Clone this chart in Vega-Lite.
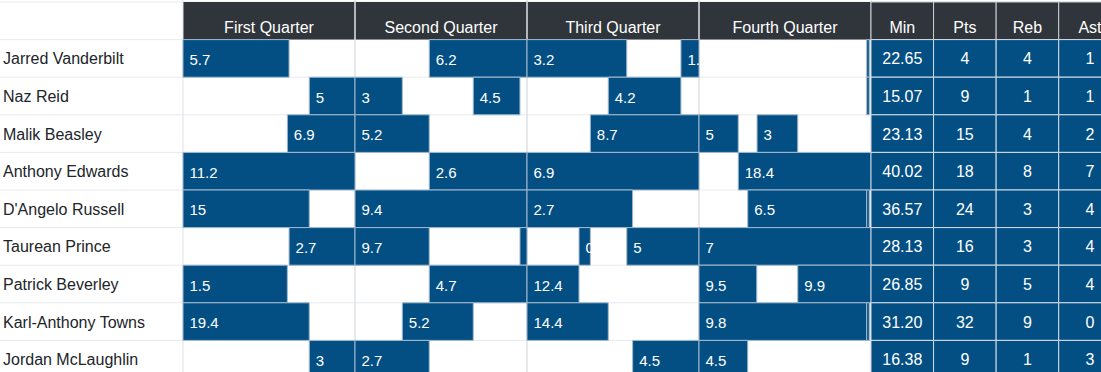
{
  "$schema": "https://vega.github.io/schema/vega-lite/v6.json",
  "width": 1101,
  "height": 372,
  "padding": 0,
  "autosize": {"type": "none"},
  "background": "#ffffff",
  "config": {"view": {"stroke": null}, "font": "Liberation Sans", "text": {"font": "Liberation Sans"}},
  "datasets": {
    "rows": [
      {"row": " "}, {"row": "Jarred Vanderbilt"}, {"row": "Naz Reid"}, {"row": "Malik Beasley"},
      {"row": "Anthony Edwards"}, {"row": "D'Angelo Russell"}, {"row": "Taurean Prince"},
      {"row": "Patrick Beverley"}, {"row": "Karl-Anthony Towns"}, {"row": "Jordan McLaughlin"}
    ],
    "players": [
      {"row": "Jarred Vanderbilt", "Min": "22.65", "Pts": "4", "Reb": "4", "Ast": "1"},
      {"row": "Naz Reid", "Min": "15.07", "Pts": "9", "Reb": "1", "Ast": "1"},
      {"row": "Malik Beasley", "Min": "23.13", "Pts": "15", "Reb": "4", "Ast": "2"},
      {"row": "Anthony Edwards", "Min": "40.02", "Pts": "18", "Reb": "8", "Ast": "7"},
      {"row": "D'Angelo Russell", "Min": "36.57", "Pts": "24", "Reb": "3", "Ast": "4"},
      {"row": "Taurean Prince", "Min": "28.13", "Pts": "16", "Reb": "3", "Ast": "4"},
      {"row": "Patrick Beverley", "Min": "26.85", "Pts": "9", "Reb": "5", "Ast": "4"},
      {"row": "Karl-Anthony Towns", "Min": "31.20", "Pts": "32", "Reb": "9", "Ast": "0"},
      {"row": "Jordan McLaughlin", "Min": "16.38", "Pts": "9", "Reb": "1", "Ast": "3"}
    ],
    "quarters": [
      {"quarter": "First Quarter", "start": 0, "end": 12},
      {"quarter": "Second Quarter", "start": 12, "end": 24},
      {"quarter": "Third Quarter", "start": 24, "end": 36},
      {"quarter": "Fourth Quarter", "start": 36, "end": 48}
    ],
    "stints": [
      {"row": "Jarred Vanderbilt", "start": 0, "end": 7.4, "label": "5.7"},
      {"row": "Jarred Vanderbilt", "start": 17.18, "end": 24, "label": "6.2"},
      {"row": "Jarred Vanderbilt", "start": 24, "end": 30.96, "label": "3.2"},
      {"row": "Jarred Vanderbilt", "start": 34.74, "end": 36, "label": "1.2"},
      {"row": "Jarred Vanderbilt", "start": 47.7, "end": 47.88, "label": null},
      {"row": "Naz Reid", "start": 8.81, "end": 12, "label": "5"},
      {"row": "Naz Reid", "start": 12, "end": 15.3, "label": "3"},
      {"row": "Naz Reid", "start": 20.25, "end": 23.51, "label": "4.5"},
      {"row": "Naz Reid", "start": 29.67, "end": 34.74, "label": "4.2"},
      {"row": "Naz Reid", "start": 47.7, "end": 47.88, "label": null},
      {"row": "Malik Beasley", "start": 7.28, "end": 12, "label": "6.9"},
      {"row": "Malik Beasley", "start": 12, "end": 17.18, "label": "5.2"},
      {"row": "Malik Beasley", "start": 28.42, "end": 36, "label": "8.7"},
      {"row": "Malik Beasley", "start": 36, "end": 38.74, "label": "5"},
      {"row": "Malik Beasley", "start": 40.05, "end": 42.89, "label": "3"},
      {"row": "Anthony Edwards", "start": 0, "end": 12, "label": "11.2"},
      {"row": "Anthony Edwards", "start": 17.18, "end": 24, "label": "2.6"},
      {"row": "Anthony Edwards", "start": 24, "end": 36, "label": "6.9"},
      {"row": "Anthony Edwards", "start": 38.74, "end": 48, "label": "18.4"},
      {"row": "D'Angelo Russell", "start": 0, "end": 8.81, "label": "15"},
      {"row": "D'Angelo Russell", "start": 12, "end": 24, "label": "9.4"},
      {"row": "D'Angelo Russell", "start": 24, "end": 31.37, "label": "2.7"},
      {"row": "D'Angelo Russell", "start": 39.4, "end": 47.7, "label": "6.5"},
      {"row": "D'Angelo Russell", "start": 47.7, "end": 47.88, "label": null},
      {"row": "Taurean Prince", "start": 7.4, "end": 12, "label": "2.7"},
      {"row": "Taurean Prince", "start": 12, "end": 17.18, "label": "9.7"},
      {"row": "Taurean Prince", "start": 23.51, "end": 24, "label": null},
      {"row": "Taurean Prince", "start": 27.63, "end": 28.42, "label": "0.8"},
      {"row": "Taurean Prince", "start": 30.96, "end": 36, "label": "5"},
      {"row": "Taurean Prince", "start": 36, "end": 48, "label": "7"},
      {"row": "Patrick Beverley", "start": 0, "end": 7.28, "label": "1.5"},
      {"row": "Patrick Beverley", "start": 17.18, "end": 24, "label": "4.7"},
      {"row": "Patrick Beverley", "start": 24, "end": 27.63, "label": "12.4"},
      {"row": "Patrick Beverley", "start": 36, "end": 40.03, "label": "9.5"},
      {"row": "Patrick Beverley", "start": 42.89, "end": 48, "label": "9.9"},
      {"row": "Karl-Anthony Towns", "start": 0, "end": 8.81, "label": "19.4"},
      {"row": "Karl-Anthony Towns", "start": 15.3, "end": 20.25, "label": "5.2"},
      {"row": "Karl-Anthony Towns", "start": 24, "end": 29.67, "label": "14.4"},
      {"row": "Karl-Anthony Towns", "start": 36, "end": 47.7, "label": "9.8"},
      {"row": "Karl-Anthony Towns", "start": 47.7, "end": 47.88, "label": null},
      {"row": "Jordan McLaughlin", "start": 8.81, "end": 12, "label": "3"},
      {"row": "Jordan McLaughlin", "start": 12, "end": 17.18, "label": "2.7"},
      {"row": "Jordan McLaughlin", "start": 31.37, "end": 36, "label": "4.5"},
      {"row": "Jordan McLaughlin", "start": 36, "end": 39.4, "label": "4.5"}
    ]
  },
  "layer": [
    {
      "layer": [
        {
          "data": {"name": "rows"},
          "mark": {"type": "rule", "color": "#e6eaee", "strokeWidth": 1},
          "encoding": {
            "y": {"field": "row", "type": "nominal", "bandPosition": 0, "axis": null,
                  "scale": {"type": "band", "domain": [" ", "Jarred Vanderbilt", "Naz Reid", "Malik Beasley", "Anthony Edwards", "D'Angelo Russell", "Taurean Prince", "Patrick Beverley", "Karl-Anthony Towns", "Jordan McLaughlin"], "range": [2, 378], "paddingInner": 0, "paddingOuter": 0}}
          }
        },
        {
          "data": {"name": "players"},
          "mark": {"type": "text", "align": "left", "baseline": "middle", "fontSize": 16, "color": "#212529", "dx": 3, "dy": 1},
          "encoding": {
            "x": {"datum": "Player", "type": "nominal", "bandPosition": 0, "axis": null,
                  "scale": {"type": "band", "domain": ["Player"], "range": [0, 183], "paddingInner": 0, "paddingOuter": 0}},
            "y": {"field": "row", "type": "nominal", "axis": null},
            "text": {"field": "row"}
          }
        }
      ]
    },
    {
      "layer": [
        {
          "data": {"name": "quarters"},
          "mark": {"type": "rect", "color": "#2f353b"},
          "encoding": {
            "x": {"field": "start", "type": "quantitative", "axis": null,
                  "scale": {"domain": [0, 48], "range": [183, 871], "nice": false, "zero": false}},
            "x2": {"field": "end"},
            "y": {"datum": " ", "type": "nominal", "axis": null}
          }
        },
        {
          "data": {"name": "quarters"},
          "transform": [{"fold": ["start", "end"], "as": ["edge", "pos"]}],
          "mark": {"type": "rule", "color": "#dde2e6", "strokeWidth": 1},
          "encoding": {
            "x": {"field": "pos", "type": "quantitative", "axis": null}
          }
        },
        {
          "data": {"name": "stints"},
          "mark": {"type": "rect", "color": "#034f84", "stroke": "#a3b9cd", "strokeWidth": 1},
          "encoding": {
            "x": {"field": "start", "type": "quantitative", "axis": null},
            "x2": {"field": "end"},
            "y": {"field": "row", "type": "nominal", "axis": null}
          }
        },
        {
          "data": {"name": "stints"},
          "transform": [{"filter": "datum.label != null"}],
          "mark": {"type": "text", "align": "left", "baseline": "middle", "fontSize": 15, "color": "#ffffff", "dx": 6.5, "dy": 1.5},
          "encoding": {
            "x": {"field": "start", "type": "quantitative", "axis": null},
            "y": {"field": "row", "type": "nominal", "axis": null},
            "text": {"field": "label"}
          }
        },
        {
          "data": {"name": "quarters"},
          "transform": [{"calculate": "(datum.start + datum.end) / 2", "as": "mid"}],
          "mark": {"type": "text", "align": "center", "baseline": "middle", "fontSize": 16, "color": "#ffffff", "dy": 7.5},
          "encoding": {
            "x": {"field": "mid", "type": "quantitative", "axis": null},
            "y": {"datum": " ", "type": "nominal", "axis": null},
            "text": {"field": "quarter"}
          }
        }
      ]
    },
    {
      "layer": [
        {
          "data": {"values": [{"stat": "Min"}, {"stat": "Pts"}, {"stat": "Reb"}, {"stat": "Ast"}]},
          "mark": {"type": "rect", "color": "#2f353b", "stroke": "#c9ced3", "strokeWidth": 1},
          "encoding": {
            "x": {"field": "stat", "type": "nominal", "axis": null,
                  "scale": {"type": "band", "domain": ["Min", "Pts", "Reb", "Ast"], "range": [871, 1121.3], "paddingInner": 0, "paddingOuter": 0}},
            "y": {"datum": " ", "type": "nominal", "axis": null}
          }
        },
        {
          "data": {"values": [{"stat": "Min"}, {"stat": "Pts"}, {"stat": "Reb"}, {"stat": "Ast"}]},
          "mark": {"type": "text", "align": "center", "baseline": "middle", "fontSize": 16, "color": "#ffffff", "dy": 7.5},
          "encoding": {
            "x": {"field": "stat", "type": "nominal", "axis": null},
            "y": {"datum": " ", "type": "nominal", "axis": null},
            "text": {"field": "stat"}
          }
        },
        {
          "data": {"name": "players"},
          "transform": [{"fold": ["Min", "Pts", "Reb", "Ast"], "as": ["stat", "value"]}],
          "mark": {"type": "rect", "color": "#034f84", "stroke": "#d3dce5", "strokeWidth": 1},
          "encoding": {
            "x": {"field": "stat", "type": "nominal", "axis": null},
            "y": {"field": "row", "type": "nominal", "axis": null}
          }
        },
        {
          "data": {"name": "players"},
          "transform": [{"fold": ["Min", "Pts", "Reb", "Ast"], "as": ["stat", "value"]}],
          "mark": {"type": "text", "align": "center", "baseline": "middle", "fontSize": 16, "color": "#ffffff", "dy": 1},
          "encoding": {
            "x": {"field": "stat", "type": "nominal", "axis": null},
            "y": {"field": "row", "type": "nominal", "axis": null},
            "text": {"field": "value"}
          }
        }
      ]
    }
  ],
  "resolve": {"scale": {"x": "independent"}}
}
